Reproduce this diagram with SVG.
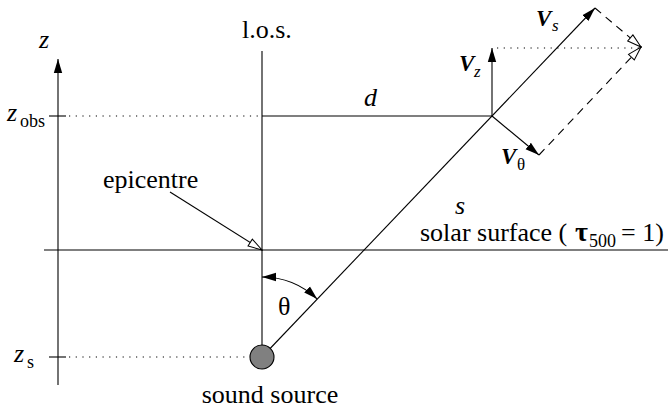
<svg xmlns="http://www.w3.org/2000/svg" width="668" height="414" viewBox="0 0 668 414">
<defs>
<style>
.ln{stroke:#000;stroke-width:1.1;fill:none}
.dot{stroke:#000;stroke-width:1.1;fill:none;stroke-dasharray:1.2 5.5}
.dash{stroke:#000;stroke-width:1.1;fill:none;stroke-dasharray:8 6}
text{font-family:"Liberation Serif","Times New Roman",serif;fill:#000}
.t{font-size:26px}
.it{font-size:26px;font-style:italic}
.sub{font-size:18px}
.v{font-size:23px;font-style:italic;font-weight:bold}
.vs{font-size:17px;font-style:italic}
</style>
<marker id="fa" viewBox="0 0 14 10" refX="14" refY="5" markerWidth="14" markerHeight="10" markerUnits="userSpaceOnUse" orient="auto-start-reverse">
<path d="M0,0.8 L14,5 L0,9.2 Z" fill="#000"/>
</marker>
<marker id="oa" viewBox="0 0 16 10" refX="15" refY="5" markerWidth="16" markerHeight="10" markerUnits="userSpaceOnUse" orient="auto">
<path d="M1,1 L15,5 L1,9 Z" fill="#fff" stroke="#000" stroke-width="1"/>
</marker>
</defs>
<rect width="668" height="414" fill="#fff"/>

<g id="connectors">
<line class="ln" x1="58" y1="385" x2="58" y2="59" marker-end="url(#fa)"/>
<line class="ln" x1="262" y1="51" x2="262" y2="357"/>
<line class="ln" x1="49" y1="116" x2="66" y2="116"/>
<line class="dot" x1="69" y1="116" x2="262" y2="116"/>
<line class="ln" x1="262" y1="116" x2="492" y2="116"/>
<line class="ln" x1="44" y1="250" x2="668" y2="250"/>
<line class="ln" x1="49" y1="357" x2="66" y2="357"/>
<line class="dot" x1="69" y1="357" x2="252" y2="357"/>
<line class="ln" x1="262" y1="357" x2="595" y2="8" marker-end="url(#fa)"/>
<line class="ln" x1="492" y1="116" x2="492" y2="48" marker-end="url(#fa)"/>
<line class="ln" x1="492" y1="116" x2="539" y2="155" marker-end="url(#fa)"/>
<line class="dot" x1="497" y1="48" x2="640" y2="48"/>
<line class="dash" x1="595" y1="8" x2="641" y2="47" marker-end="url(#oa)"/>
<line class="dash" x1="539" y1="155" x2="641" y2="47" marker-end="url(#oa)"/>
<line class="ln" x1="170" y1="192" x2="262" y2="250" marker-end="url(#oa)"/>
<path class="ln" d="M262,277 A80,80 0 0 1 317.2,299.1" marker-start="url(#fa)" marker-end="url(#fa)"/>
</g>

<g id="sound-source">
<circle cx="262" cy="357" r="12" fill="#808080" stroke="#000" stroke-width="1.1"/>
<text class="t" x="270" y="403" text-anchor="middle">sound source</text>
</g>

<g id="labels">
<text class="it" x="39" y="48">z</text>
<text class="it" x="7" y="121">z</text>
<text class="sub" x="20" y="127">obs</text>
<text class="it" x="14" y="362">z</text>
<text class="sub" x="27" y="368">s</text>
<text class="t" x="242" y="38">l.o.s.</text>
<text class="t" x="103" y="188">epicentre</text>
<text class="it" x="364" y="106">d</text>
<text class="it" x="455" y="214">s</text>
<text class="t" x="278" y="315">θ</text>
<text class="t" x="420" y="241">solar surface (</text>
<text x="575" y="241" style="font-size:28px;font-weight:bold">τ</text>
<text class="sub" x="589" y="247">500</text>
<text class="t" x="621" y="241">= 1)</text>
<text class="v" x="536" y="26">V</text>
<text class="vs" x="552" y="31">s</text>
<text class="v" x="459" y="71">V</text>
<text class="vs" x="474" y="77">z</text>
<text class="v" x="501" y="164">V</text>
<text class="sub" x="517" y="170" style="font-size:17px">θ</text>
</g>
</svg>
